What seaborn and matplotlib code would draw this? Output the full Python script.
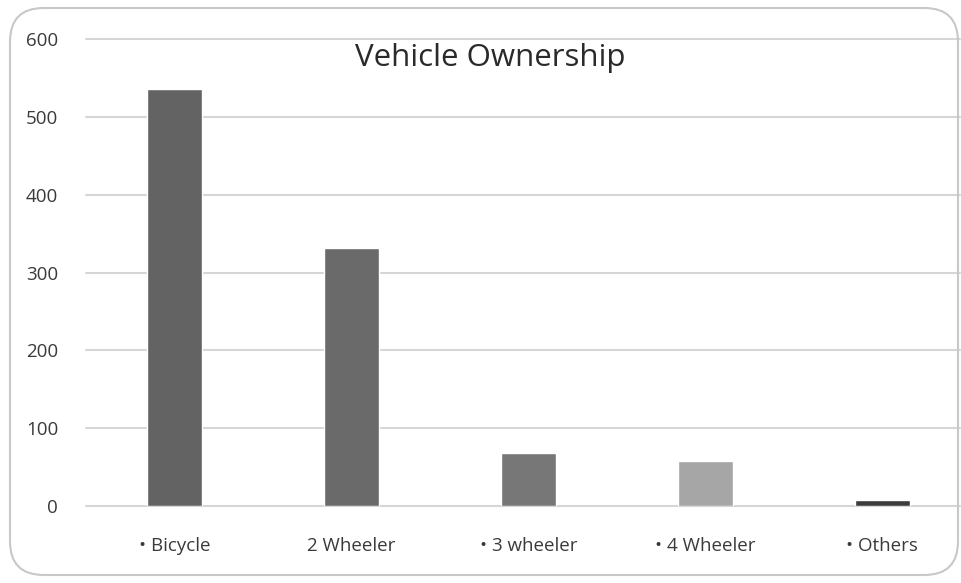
import pandas as pd
import numpy as np
import matplotlib.pyplot as plt
import seaborn as sns
from matplotlib.patches import FancyBboxPatch

# values
categories = ["• Bicycle", "2 Wheeler", "• 3 wheeler", "• 4 Wheeler", "• Others"]
counts = [536, 332, 68, 58, 8]
bar_colors = ["#636363", "#6a6a6a", "#777777", "#a6a6a6", "#3c3c3c"]
y_ticks = [0, 100, 200, 300, 400, 500, 600]

df = pd.DataFrame({"vehicle": categories, "count": counts})

sns.set_style("white")
plt.rcParams['font.family'] = ['Open Sans', 'DejaVu Sans']

W, H = 962, 583
fig = plt.figure(figsize=(W / 100, H / 100), dpi=100)
ax = fig.add_axes([86 / W, (H - 506) / H, (960 - 86) / W, (506 - 39) / H])

# rounded frame around the whole chart
frame = FancyBboxPatch((10 / W, 8 / H), 948 / W, 567 / H,
                       boxstyle="round,pad=0,rounding_size=0.035",
                       transform=fig.transFigure, facecolor="none",
                       edgecolor="#c8c8c8", linewidth=1.5, mutation_aspect=W / H)
fig.patches.append(frame)

sns.barplot(data=df, x="vehicle", y="count", hue="vehicle", palette=bar_colors,
            width=0.31, legend=False, ax=ax, zorder=3)

ax.set_ylim(0, 600)
ax.set_xlim(-0.5, 4.44)
ax.set_yticks(y_ticks)
ax.yaxis.grid(True, color="#d6d6d6", linewidth=1.5, zorder=0)
for gl in ax.get_ygridlines():
    gl.set_clip_on(False)
ax.set_axisbelow(True)
for s in ax.spines.values():
    s.set_visible(False)

ax.tick_params(axis="y", length=0, pad=20, labelsize=13.5, labelcolor="#3a3a3a")
ax.tick_params(axis="x", length=0, pad=22, labelsize=13.5, labelcolor="#3a3a3a")
ax.set_xlabel("")
ax.set_ylabel("")

ax.text(0.462, 0.96, "Vehicle Ownership", transform=ax.transAxes, ha="center",
        va="center", fontsize=22.5, color="#2a2a2a")

plt.savefig("out.png", dpi=100)
